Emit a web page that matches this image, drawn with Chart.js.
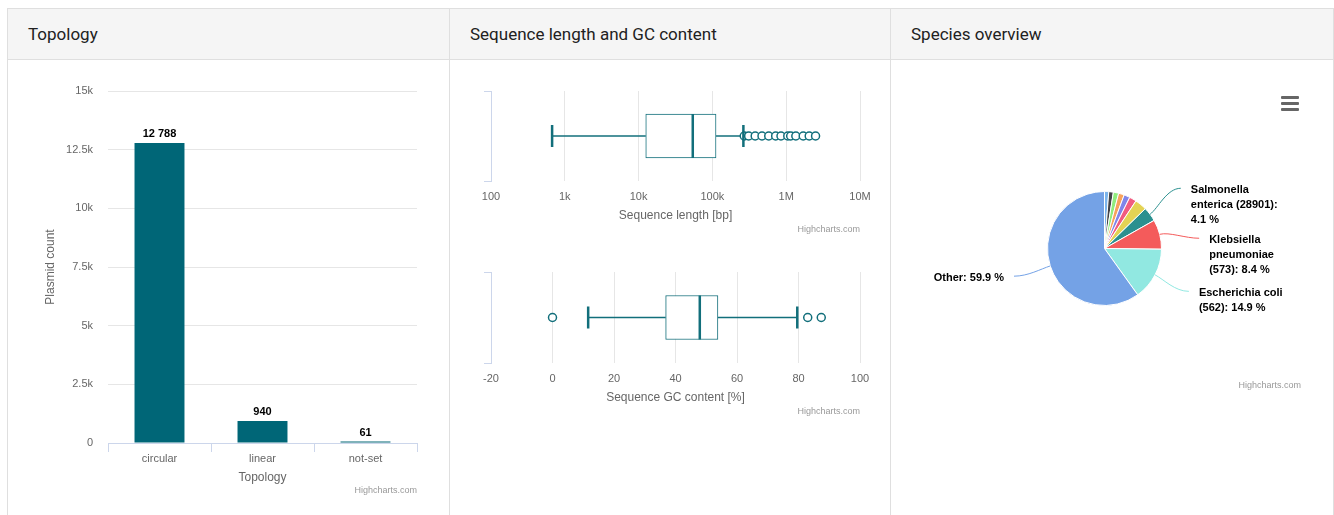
<!DOCTYPE html>
<html>
<head>
<meta charset="utf-8">
<script src="https://cdn.jsdelivr.net/npm/chart.js@4.4.1/dist/chart.umd.min.js"></script>
<style>
html,body{margin:0;padding:0;background:#fff;width:1334px;height:515px;overflow:hidden;font-family:"Liberation Sans",Arial,sans-serif;}
.panel{position:absolute;top:8px;height:560px;border:1px solid #dfdfdf;background:#fff;box-sizing:border-box;}
.hdr{position:absolute;left:0;right:0;top:0;height:51px;background:#f5f5f5;border-bottom:1px solid #dfdfdf;box-sizing:border-box;font:17px Roboto,"Liberation Sans",sans-serif;color:#212121;line-height:50px;padding-left:20px;}
canvas{position:absolute;}
.credit{position:absolute;width:200px;font:9px "Liberation Sans",Arial,sans-serif;color:#999;text-align:right;line-height:10px;}
.menu{position:absolute;left:1281px;width:18px;height:3px;border-radius:1px;background:#666;}
</style>
</head>
<body>
<div class="panel" style="left:7px;width:443px;"><div class="hdr">Topology</div></div>
<div class="panel" style="left:449px;width:442px;"><div class="hdr">Sequence length and GC content</div></div>
<div class="panel" style="left:890px;width:444px;"><div class="hdr">Species overview</div></div>

<canvas id="topo" width="440" height="454" style="left:8px;top:61px;width:440px;height:454px;"></canvas>
<canvas id="lenBox" width="439" height="180" style="left:450px;top:60px;width:439px;height:180px;"></canvas>
<canvas id="gcBox" width="439" height="180" style="left:450px;top:240px;width:439px;height:180px;"></canvas>
<canvas id="species" width="441" height="400" style="left:891px;top:61px;width:441px;height:400px;"></canvas>

<div class="credit" style="left:217px;top:485px;">Highcharts.com</div>
<div class="credit" style="left:660px;top:224px;">Highcharts.com</div>
<div class="credit" style="left:660px;top:406px;">Highcharts.com</div>
<div class="credit" style="left:1101px;top:380px;">Highcharts.com</div>
<div class="menu" style="top:96px;"></div>
<div class="menu" style="top:102px;"></div>
<div class="menu" style="top:108px;"></div>

<script>
// ---------- DATA ----------
const topologyCategories = ['circular', 'linear', 'not-set'];
const plasmidCounts = [12788, 940, 61];
const countTickStep = 2500;
const countMax = 15000;

const lengthTickValues = [100, 1000, 10000, 100000, 1000000, 10000000];
const lengthTickLabels = ['100', '1k', '10k', '100k', '1M', '10M'];
const lengthBox = [673, 12500, 54200, 112000, 263000];          // low, q1, median, q3, high
const lengthOutliers = [270000, 310000, 380000, 470000, 580000, 720000, 850000,
                        1050000, 1150000, 1350000, 1700000, 2050000, 2500000];

const gcTickValues = [-20, 0, 20, 40, 60, 80, 100];
const gcBox = [11.6, 36.8, 47.9, 53.8, 79.6];
const gcOutliers = [0, 83.0, 87.4];

const speciesNames = ['', '', '', '', '', '', '',
  'Salmonella enterica (28901)', 'Klebsiella pneumoniae (573)', 'Escherichia coli (562)', 'Other'];
const speciesShares = [1.2, 1.3, 1.5, 1.6, 1.7, 2.0, 3.4, 4.1, 8.4, 14.9, 59.9];
const speciesColors = ['#7cb5ec', '#434348', '#90ed7d', '#f7a35c', '#8085e9', '#f15c80',
  '#e4d354', '#2b908f', '#f45b5b', '#91e8e1', '#74a2e6'];

// ---------- COMMON ----------
const FONT = '"Liberation Sans", Arial, sans-serif';
Chart.defaults.font.family = FONT;
Chart.defaults.animation = false;
Chart.defaults.responsive = false;
Chart.defaults.devicePixelRatio = 1;
Chart.defaults.events = [];
Chart.defaults.plugins.legend.display = false;
Chart.defaults.plugins.tooltip.enabled = false;
const TEAL = '#006677';
const BOXC = '#126f7b';

function fmtThousands(v) { return String(v).replace(/\B(?=(\d{3})+(?!\d))/g, ' '); }

// ---------- TOPOLOGY BAR ----------
const barLabelPlugin = {
  id: 'barLabels',
  afterDatasetsDraw(chart) {
    const ctx = chart.ctx;
    const meta = chart.getDatasetMeta(0);
    const data = chart.data.datasets[0].data;
    ctx.save();
    ctx.font = 'bold 11px ' + FONT;
    ctx.textAlign = 'center';
    ctx.textBaseline = 'middle';
    ctx.lineJoin = 'round';
    meta.data.forEach((el, i) => {
      const t = fmtThousands(data[i]);
      ctx.lineWidth = 2; ctx.strokeStyle = '#fff';
      ctx.strokeText(t, el.x, el.y - 9);
      ctx.fillStyle = '#000';
      ctx.fillText(t, el.x, el.y - 9);
    });
    ctx.restore();
  }
};

new Chart(document.getElementById('topo'), {
  type: 'bar',
  data: {
    labels: topologyCategories,
    datasets: [{ data: plasmidCounts, backgroundColor: TEAL, barPercentage: 0.485, categoryPercentage: 1 }]
  },
  options: {
    layout: { padding: { left: 35, right: 31, top: 30, bottom: 22 } },
    scales: {
      x: {
        grid: { offset: true, drawOnChartArea: false, drawTicks: true, tickLength: 9, color: '#ccd6eb' },
        border: { display: true, color: '#ccd6eb' },
        ticks: { color: '#666', font: { size: 11 }, padding: 0, maxRotation: 0 },
        title: { display: true, text: 'Topology', color: '#666', font: { size: 12 }, padding: { top: 0, bottom: 8 } },
        afterFit: s => { s.height = 50; }
      },
      y: {
        min: 0, max: countMax,
        ticks: { stepSize: countTickStep, color: '#666', font: { size: 11 }, padding: 15,
          callback: v => v === 0 ? '0' : (v / 1000) + 'k' },
        grid: { color: '#e6e6e6', drawTicks: false },
        border: { display: false },
        title: { display: true, text: 'Plasmid count', color: '#666', font: { size: 12 }, padding: 0 },
        afterFit: s => { s.width = 65; }
      }
    }
  },
  plugins: [barLabelPlugin]
});

// ---------- BOX PLOTS ----------
function boxChart(id, box, outliers, xScale, titleText, pad, titlePadBottom) {
  const cat = 'series';
  const [lo, q1, med, q3, hi] = box;
  const pt = v => ({ x: v, y: cat });
  xScale.position = 'bottom';
  xScale.border = { display: false };
  xScale.grid = { color: c => c.index === 0 ? 'rgba(0,0,0,0)' : '#e6e6e6', drawTicks: false };
  xScale.ticks = Object.assign({ color: '#666', font: { size: 11 }, padding: 9, maxRotation: 0, autoSkip: false }, xScale.ticks || {});
  xScale.title = { display: true, text: titleText, color: '#666', font: { size: 12 }, padding: { top: 0, bottom: titlePadBottom } };
  xScale.afterFit = s => { s.height = 45; };
  return new Chart(document.getElementById(id), {
    type: 'bar',
    data: {
      labels: [cat],
      datasets: [
        { type: 'bar', data: [[q1, q3]], backgroundColor: '#fff', borderColor: BOXC, borderWidth: 1,
          borderSkipped: false, barThickness: 44, order: 6 },
        { type: 'line', data: [pt(lo), pt(q1)], borderColor: BOXC, borderWidth: 1.5, pointRadius: 0, order: 5 },
        { type: 'line', data: [pt(q3), pt(hi)], borderColor: BOXC, borderWidth: 1.5, pointRadius: 0, order: 5 },
        { type: 'line', showLine: false, data: outliers.map(pt), pointStyle: 'circle', pointRadius: 4,
          pointBackgroundColor: '#fff', pointBorderColor: BOXC, pointBorderWidth: 1.5, order: 3 },
        { type: 'line', showLine: false, data: [pt(lo), pt(hi)], pointStyle: 'line', pointRotation: 90,
          pointRadius: 11, pointBorderColor: BOXC, pointBorderWidth: 2.5, order: 2 },
        { type: 'line', showLine: false, data: [pt(med)], pointStyle: 'line', pointRotation: 90,
          pointRadius: 22, pointBorderColor: BOXC, pointBorderWidth: 2.5, order: 1 }
      ]
    },
    options: {
      indexAxis: 'y',
      layout: { padding: pad },
      scales: {
        x: xScale,
        y: {
          type: 'category', offset: true,
          grid: { offset: true, drawOnChartArea: false, drawTicks: true, tickLength: 7, color: '#ccd6eb' },
          border: { display: true, color: '#ccd6eb' },
          ticks: { display: false },
          afterFit: s => { s.width = 8; }
        }
      }
    }
  });
}

boxChart('lenBox', lengthBox, lengthOutliers, {
  type: 'logarithmic', min: lengthTickValues[0], max: lengthTickValues[lengthTickValues.length - 1],
  afterBuildTicks: s => { s.ticks = lengthTickValues.map(v => ({ value: v })); },
  ticks: { callback: v => { const i = lengthTickValues.indexOf(v); return i >= 0 ? lengthTickLabels[i] : ''; } }
}, 'Sequence length [bp]', { left: 33, right: 29, top: 31, bottom: 14 }, 3);

boxChart('gcBox', gcBox, gcOutliers, {
  type: 'linear', min: gcTickValues[0], max: gcTickValues[gcTickValues.length - 1],
  afterBuildTicks: s => { s.ticks = gcTickValues.map(v => ({ value: v })); },
  ticks: { callback: v => String(v) }
}, 'Sequence GC content [%]', { left: 33, right: 29, top: 32, bottom: 12 }, 3);

// ---------- SPECIES PIE ----------
function wrapText(ctx, text, maxW) {
  const words = text.split(' ');
  const lines = [];
  let cur = '';
  words.forEach(w => {
    const test = cur ? cur + ' ' + w : w;
    if (cur && ctx.measureText(test).width > maxW) { lines.push(cur); cur = w; }
    else cur = test;
  });
  if (cur) lines.push(cur);
  return lines;
}

const pieLabelPlugin = {
  id: 'pieLabels',
  afterDatasetsDraw(chart) {
    const ctx = chart.ctx;
    const meta = chart.getDatasetMeta(0);
    const ds = chart.data.datasets[0];
    const total = ds.data.reduce((a, b) => a + b, 0);
    const lineH = 15, gap = 20, R = 100, yR = 97;
    ctx.save();
    ctx.font = 'bold 11px ' + FONT;
    const items = [];
    meta.data.forEach((el, i) => {
      const pct = ds.data[i] / total * 100;
      if (pct < 4) return;
      const p = el.getProps(['x', 'y', 'startAngle', 'endAngle', 'outerRadius'], true);
      const mid = (p.startAngle + p.endAngle) / 2;
      const dir = { x: Math.cos(mid), y: Math.sin(mid) };
      const side = dir.x >= 0 ? 1 : -1;
      const text = chart.data.labels[i] + ': ' + pct.toFixed(1) + ' %';
      const lines = wrapText(ctx, text, 92);
      items.push({ i, p, dir, side, lines, y1: p.y + dir.y * yR, color: ds.backgroundColor[i] });
    });
    [1, -1].forEach(side => {
      const list = items.filter(it => it.side === side).sort((a, b) => a.y1 - b.y1);
      let prevLast = -Infinity;
      list.forEach(it => {
        if (it.y1 < prevLast + gap) it.y1 = prevLast + gap;
        prevLast = it.y1 + (it.lines.length - 1) * lineH;
      });
    });
    items.forEach(it => {
      const { p, dir, side } = it;
      const dy = it.y1 - p.y;
      const ax = p.x + side * Math.sqrt(Math.max(R * R - dy * dy, 0));
      const edge = { x: p.x + dir.x * p.outerRadius, y: p.y + dir.y * p.outerRadius };
      const end = { x: ax - side * 5, y: it.y1 - 2 };
      ctx.beginPath();
      ctx.moveTo(end.x, end.y);
      ctx.bezierCurveTo(end.x - side * 14, end.y, edge.x + dir.x * 10, edge.y + dir.y * 10, edge.x, edge.y);
      ctx.strokeStyle = it.color;
      ctx.lineWidth = 1;
      ctx.stroke();
      ctx.textAlign = side > 0 ? 'left' : 'right';
      ctx.textBaseline = 'middle';
      ctx.lineJoin = 'round';
      it.lines.forEach((ln, k) => {
        const tx = ax + side * 5, ty = it.y1 + k * lineH;
        ctx.lineWidth = 2; ctx.strokeStyle = '#fff';
        ctx.strokeText(ln, tx, ty);
        ctx.fillStyle = '#000';
        ctx.fillText(ln, tx, ty);
      });
    });
    ctx.restore();
  }
};

new Chart(document.getElementById('species'), {
  type: 'pie',
  data: {
    labels: speciesNames,
    datasets: [{ data: speciesShares, backgroundColor: speciesColors, borderColor: '#fff', borderWidth: 1 }]
  },
  options: {
    layout: { padding: { left: 156, right: 170, top: 130, bottom: 155 } }
  },
  plugins: [pieLabelPlugin]
});
</script>
</body>
</html>
